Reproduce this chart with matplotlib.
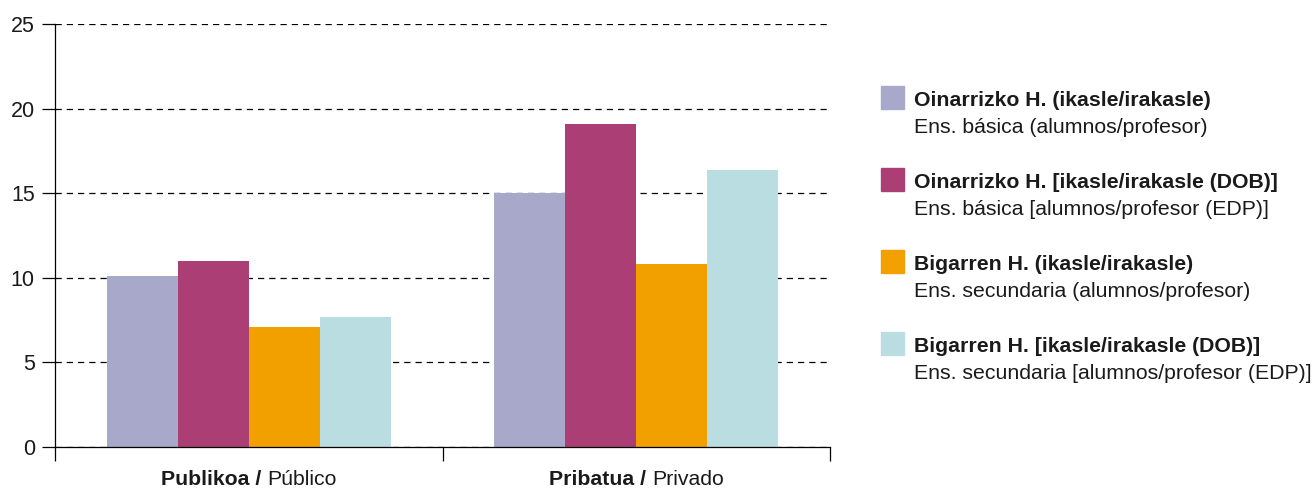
import matplotlib.pyplot as plt
from matplotlib.patches import Rectangle
import numpy as np

plt.rcParams['font.family'] = ['Liberation Sans', 'DejaVu Sans']

groups_bold = ['Publikoa /', 'Pribatua /']
groups_reg = ['Público', 'Privado']
series_bold = ['Oinarrizko H. (ikasle/irakasle)',
               'Oinarrizko H. [ikasle/irakasle (DOB)]',
               'Bigarren H. (ikasle/irakasle)',
               'Bigarren H. [ikasle/irakasle (DOB)]']
series_reg = ['Ens. básica (alumnos/profesor)',
              'Ens. básica [alumnos/profesor (EDP)]',
              'Ens. secundaria (alumnos/profesor)',
              'Ens. secundaria [alumnos/profesor (EDP)]']
colors = ['#A8A8CA', '#AC3E76', '#F2A000', '#BADDE2']
values = [
    [10.1, 15.0],
    [11.0, 19.1],
    [7.1, 10.8],
    [7.7, 16.4],
]

fig = plt.figure(figsize=(13.16, 4.88), dpi=100)
ax = fig.add_axes([55 / 1316, 41 / 488, 775 / 1316, 423 / 488])

x = np.arange(len(groups_bold))
w = 0.183
for i, vals in enumerate(values):
    ax.bar(x + (i - 1.5) * w, vals, w, color=colors[i], zorder=3)

ax.set_xlim(-0.5, 1.5)
ax.set_ylim(0, 25)
ax.set_yticks([0, 5, 10, 15, 20, 25])
ax.yaxis.grid(True, linestyle=(0, (5, 4)), color='black', linewidth=0.9, zorder=0)
ax.tick_params(axis='y', length=9.5, width=0.9, labelsize=15.5, pad=5, labelcolor='#1a1a1a')
ax.set_xticks([-0.5, 0.5, 1.5])
ax.set_xticklabels([])
ax.tick_params(axis='x', length=10, width=0.9)
for s in ['top', 'right']:
    ax.spines[s].set_visible(False)
ax.spines['left'].set_linewidth(0.9)
ax.spines['bottom'].set_linewidth(0.9)
ax.spines['bottom'].set_zorder(4)

# x category labels, bold part + regular part, centred together
fig.canvas.draw()
r = fig.canvas.get_renderer()
inv = ax.transData.inverted()
for i in range(len(groups_bold)):
    tb = ax.text(x[i], -2.25, groups_bold[i] + ' ', fontsize=15.3, fontweight='bold',
                 ha='left', va='baseline', color='#1a1a1a')
    tr = ax.text(x[i], -2.25, groups_reg[i], fontsize=15.3, ha='left', va='baseline', color='#1a1a1a')
    wb = tb.get_window_extent(r).width
    wr = tr.get_window_extent(r).width
    x0 = ax.transData.transform((x[i], 0))[0] - (wb + wr) / 2
    tb.set_x(inv.transform((x0, 0))[0])
    tr.set_x(inv.transform((x0 + wb, 0))[0])

# legend
for i in range(len(series_bold)):
    top = 86 + i * 82
    fig.add_artist(Rectangle((881 / 1316, 1 - (top + 23) / 488), 23 / 1316, 23 / 488,
                             transform=fig.transFigure, color=colors[i]))
    fig.text(914 / 1316, 1 - (top + 20) / 488, series_bold[i], fontsize=15.3,
             fontweight='bold', va='baseline', color='#1a1a1a')
    fig.text(914 / 1316, 1 - (top + 47) / 488, series_reg[i], fontsize=15.3,
             va='baseline', color='#1a1a1a')

fig.savefig('out.png', dpi=100)
